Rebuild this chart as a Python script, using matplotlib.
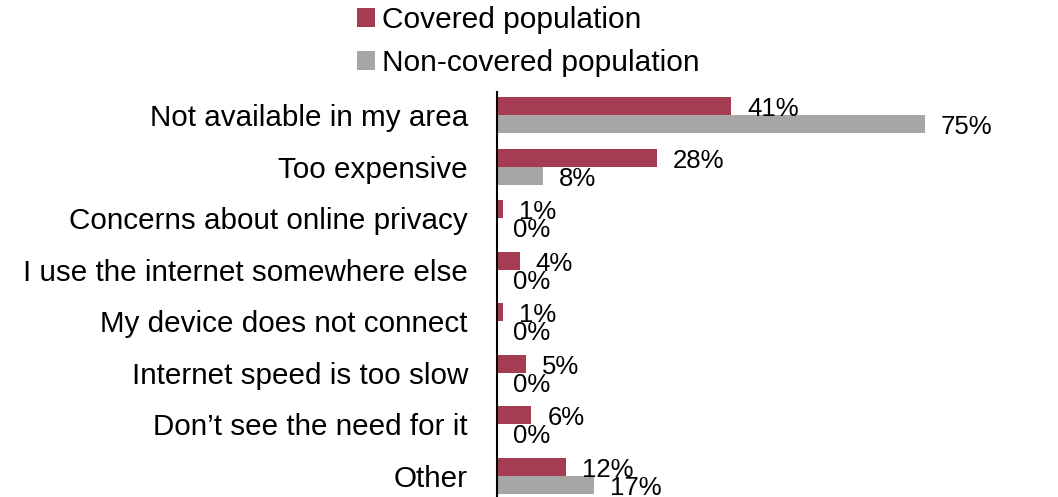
import numpy as np
import matplotlib.pyplot as plt

categories = ["Not available in my area", "Too expensive", "Concerns about online privacy",
              "I use the internet somewhere else", "My device does not connect",
              "Internet speed is too slow", "Don\u2019t see the need for it", "Other"]
covered = [41, 28, 1, 4, 1, 5, 6, 12]
non_covered = [75, 8, 0, 0, 0, 0, 0, 17]

plt.rcParams['font.family'] = ['Liberation Sans', 'DejaVu Sans']

fig = plt.figure(figsize=(10.58, 4.97), dpi=100)
ax = fig.add_axes([0.4698, 0.0, 0.5302, 0.8149])

y = np.arange(len(categories))
h = 0.35
ax.barh(y - h / 2, covered, height=h, color='#A63C52', label='Covered population')
ax.barh(y + h / 2, non_covered, height=h, color='#A6A6A6', label='Non-covered population')

# value labels just past the end of each bar
for yi, v in zip(y, covered):
    ax.annotate(f"{v}%", (v, yi - h / 2), xytext=(16, -3), textcoords='offset pixels',
                va='center', ha='left', fontsize=18.5)
for yi, v in zip(y, non_covered):
    ax.annotate(f"{v}%", (v, yi + h / 2), xytext=(16, -3), textcoords='offset pixels',
                va='center', ha='left', fontsize=18.5)

ax.set_xlim(0, 98.3)
ax.set_ylim(7.407, -0.446)
ax.set_yticks(y)
ax.set_yticklabels(categories, fontsize=21.3)
ax.tick_params(axis='y', length=0, pad=21)
ax.set_xticks([])
for s in ['top', 'right', 'bottom']:
    ax.spines[s].set_visible(False)
ax.spines['left'].set_linewidth(1.5)

fig.legend(loc='upper left', bbox_to_anchor=(357 / 1058, 1 - 6 / 497), frameon=False, fontsize=21.5,
           handlelength=0.6, handleheight=0.6, handletextpad=0.25, labelspacing=0.5,
           borderpad=0, borderaxespad=0)

fig.savefig('out.png', dpi=100)
